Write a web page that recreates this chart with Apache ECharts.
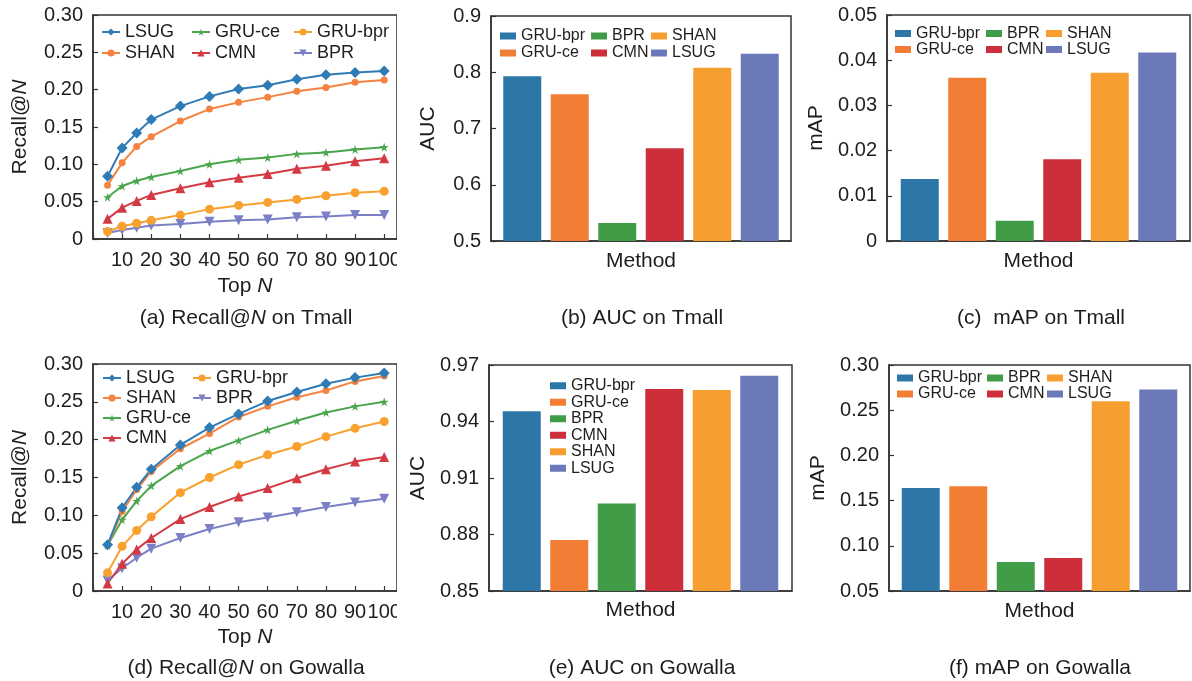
<!DOCTYPE html>
<html>
<head>
<meta charset="utf-8">
<script src="https://cdn.jsdelivr.net/npm/echarts@6.0.0/dist/echarts.min.js"></script>
<style>
	html, body { margin: 0; padding: 0; background: #fff; }
	#wrap { position: relative; width: 1192px; height: 681px; overflow: hidden; }
	.panel { position: absolute; }
</style>
</head>
<body>
<div id="wrap">
	<div class="panel" id="chartA" style="left:0px;top:0px;width:397px;height:340px;"></div>
	<div class="panel" id="chartB" style="left:397px;top:0px;width:397px;height:340px;"></div>
	<div class="panel" id="chartC" style="left:794px;top:0px;width:398px;height:340px;"></div>
	<div class="panel" id="chartD" style="left:0px;top:340px;width:397px;height:341px;"></div>
	<div class="panel" id="chartE" style="left:397px;top:340px;width:397px;height:341px;"></div>
	<div class="panel" id="chartF" style="left:794px;top:340px;width:398px;height:341px;"></div>
</div>
<script>
// x 값 (Top N)
const topN = [5, 10, 15, 20, 30, 40, 50, 60, 70, 80, 90, 100];
const topNTicks = [10, 20, 30, 40, 50, 60, 70, 80, 90, 100];

// Recall@N on Tmall
const tmallLSUG   = [0.084, 0.122, 0.142, 0.160, 0.178, 0.191, 0.201, 0.206, 0.214, 0.220, 0.223, 0.225];
const tmallSHAN   = [0.072, 0.102, 0.124, 0.137, 0.158, 0.174, 0.183, 0.190, 0.198, 0.203, 0.210, 0.213];
const tmallGRUce  = [0.056, 0.071, 0.078, 0.083, 0.091, 0.100, 0.106, 0.109, 0.114, 0.116, 0.120, 0.123];
const tmallCMN    = [0.027, 0.042, 0.051, 0.059, 0.068, 0.076, 0.082, 0.087, 0.094, 0.098, 0.104, 0.108];
const tmallGRUbpr = [0.010, 0.017, 0.021, 0.025, 0.032, 0.040, 0.045, 0.049, 0.053, 0.058, 0.062, 0.064];
const tmallBPR    = [0.008, 0.012, 0.015, 0.018, 0.020, 0.023, 0.025, 0.026, 0.029, 0.030, 0.032, 0.032];

// Recall@N on Gowalla
const gowLSUG   = [0.061, 0.110, 0.137, 0.161, 0.193, 0.216, 0.234, 0.251, 0.263, 0.274, 0.282, 0.288];
const gowSHAN   = [0.060, 0.105, 0.134, 0.158, 0.188, 0.208, 0.230, 0.244, 0.256, 0.265, 0.277, 0.284];
const gowGRUce  = [0.060, 0.094, 0.119, 0.139, 0.165, 0.185, 0.199, 0.213, 0.225, 0.236, 0.244, 0.250];
const gowGRUbpr = [0.024, 0.059, 0.080, 0.098, 0.130, 0.150, 0.167, 0.180, 0.191, 0.204, 0.215, 0.224];
const gowCMN    = [0.010, 0.036, 0.055, 0.070, 0.095, 0.111, 0.125, 0.136, 0.149, 0.161, 0.171, 0.177];
const gowBPR    = [0.014, 0.030, 0.044, 0.056, 0.070, 0.082, 0.091, 0.097, 0.104, 0.111, 0.117, 0.122];

// 막대 차트 (방법별)
const methods    = ['GRU-bpr', 'GRU-ce', 'BPR', 'CMN', 'SHAN', 'LSUG'];
const aucTmall   = [0.793, 0.761, 0.532, 0.665, 0.808, 0.833];
const mapTmall   = [0.0137, 0.0361, 0.0045, 0.0181, 0.0372, 0.0417];
const aucGowalla = [0.9454, 0.8771, 0.8964, 0.9572, 0.9567, 0.9643];
const mapGowalla = [0.164, 0.166, 0.082, 0.0865, 0.260, 0.273];

const FONT = "'Liberation Sans', Arial, Helvetica, sans-serif";
const TXT = '#1e1e1e';
const AXIS = '#333';

// 선 스타일
const lineStyles = {
	'LSUG':    { color: '#2f7bb6', symbol: 'diamond', size: 11 },
	'SHAN':    { color: '#f5823f', symbol: 'circle', size: 7 },
	'GRU-ce':  { color: '#4aa64c', symbol: 'path://M50,0 L61,35 L98,35 L68,57 L79,91 L50,70 L21,91 L32,57 L2,35 L39,35 Z', size: 9 },
	'CMN':     { color: '#d33a43', symbol: 'triangle', size: 10 },
	'GRU-bpr': { color: '#f9a12f', symbol: 'circle', size: 9 },
	'BPR':     { color: '#7b80c6', symbol: 'triangle', size: 10, rotate: 180 },
};
const barColors = {
	'GRU-bpr': '#2c76a8',
	'GRU-ce':  '#f27e36',
	'BPR':     '#419c47',
	'CMN':     '#cc2f39',
	'SHAN':    '#f79e31',
	'LSUG':    '#6c79b8',
};

const italicRich = {
	i: { fontStyle: 'italic', fontSize: 21, fontFamily: FONT, color: TXT },
};

// 캡션
function caption(text, x, y) {
	return {
		type: 'text',
		x: x,
		y: y,
		style: {
			text: text,
			fontSize: 21,
			fontFamily: FONT,
			fill: TXT,
			align: 'center',
			verticalAlign: 'middle',
			rich: italicRich,
		},
	};
}

function baseGrid(g) {
	return {
		left: g[0], top: g[1], width: g[2], height: g[3],
		show: true,
		borderColor: AXIS,
		borderWidth: 1.5,
		backgroundColor: 'transparent',
		outerBoundsMode: 'none',
	};
}

function valueYAxis(cfg) {
	return {
		type: 'value',
		min: cfg.min,
		max: cfg.max,
		interval: cfg.interval,
		name: cfg.name,
		nameLocation: 'middle',
		nameGap: cfg.nameGap,
		nameMoveOverlap: false,
		nameTextStyle: { fontSize: 21, fontFamily: FONT, color: TXT, rich: italicRich },
		axisLine: { show: true, lineStyle: { color: AXIS, width: 1.5 } },
		axisTick: { show: true, inside: true, length: 5, lineStyle: { color: AXIS, width: 1.2 } },
		axisLabel: {
			fontSize: 20, fontFamily: FONT, color: TXT, margin: 10,
			formatter: cfg.formatter,
		},
		splitLine: { show: false },
	};
}

function legendCols(cols, lefts, top, cfg) {
	return cols.map((col, i) => ({
		data: col,
		orient: 'vertical',
		left: lefts[i],
		top: top,
		padding: 0,
		itemGap: 0,
		itemWidth: cfg.itemWidth,
		itemHeight: cfg.itemHeight,
		icon: cfg.icon,
		selectedMode: false,
		textStyle: { fontSize: cfg.fontSize, fontFamily: FONT, color: TXT, lineHeight: cfg.lineHeight },
	}));
}

// 라인 차트 옵션 (Recall@N)
function lineOption(p) {
	const series = p.order.map(name => {
		const st = lineStyles[name];
		return {
			name: name,
			type: 'line',
			data: topN.map((x, i) => [x, p.values[name][i]]),
			symbol: st.symbol,
			symbolSize: st.size,
			symbolRotate: st.rotate || 0,
			showSymbol: true,
			lineStyle: { color: st.color, width: 2 },
			itemStyle: { color: st.color },
		};
	});
	return {
		animation: false,
		grid: baseGrid(p.grid),
		legend: legendCols(p.legendCols, p.legendLefts, p.legendTop, {
			itemWidth: 18, itemHeight: 9, fontSize: 18, lineHeight: p.legendLineHeight,
		}),
		xAxis: {
			type: 'value',
			min: 0,
			max: 104.4,
			interval: 10,
			name: 'Top {i|N}',
			nameLocation: 'middle',
			nameGap: p.xNameGap,
			nameTextStyle: { fontSize: 21, fontFamily: FONT, color: TXT, rich: italicRich },
			axisLine: { show: true, lineStyle: { color: AXIS, width: 1.5 } },
			axisTick: { show: true, inside: true, length: 5, lineStyle: { color: AXIS, width: 1.2 } },
			axisLabel: {
				fontSize: 20, fontFamily: FONT, color: TXT, margin: 11,
				formatter: v => topNTicks.indexOf(Math.round(v * 1000) / 1000) >= 0 ? String(v) : '',
			},
			splitLine: { show: false },
		},
		yAxis: valueYAxis({
			min: 0, max: 0.30, interval: 0.05,
			name: 'Recall@{i|N}', nameGap: 62,
			formatter: v => (v === 0 ? '0' : v.toFixed(2)),
		}),
		graphic: [caption(p.caption, p.captionXY[0], p.captionXY[1])],
		series: series,
	};
}

// 막대 차트 옵션 (AUC / mAP)
function barOption(p) {
	const series = methods.map((name, i) => ({
		name: name,
		type: 'bar',
		data: [p.values[i]],
		barWidth: 38,
		barGap: '25%',
		itemStyle: { color: barColors[name] },
	}));
	return {
		animation: false,
		grid: baseGrid(p.grid),
		legend: legendCols(p.legendCols, p.legendLefts, p.legendTop, {
			itemWidth: 16, itemHeight: 7, icon: 'rect', fontSize: 16, lineHeight: p.legendLineHeight,
		}),
		xAxis: {
			type: 'category',
			data: ['Method'],
			name: 'Method',
			nameLocation: 'middle',
			nameGap: p.xNameGap,
			nameTextStyle: { fontSize: 21, fontFamily: FONT, color: TXT },
			axisLine: { show: true, lineStyle: { color: AXIS, width: 1.5 } },
			axisTick: { show: false },
			axisLabel: { show: false },
		},
		yAxis: valueYAxis({
			min: p.min, max: p.max, interval: p.interval,
			name: p.yName, nameGap: p.yNameGap,
			formatter: p.formatter,
		}),
		graphic: [caption(p.caption, p.captionXY[0], p.captionXY[1])],
		series: series,
	};
}

const fix2 = v => (Math.abs(v) < 1e-9 ? '0' : v.toFixed(2));
const fix1 = v => v.toFixed(1);
const barLegendCols = [['GRU-bpr', 'GRU-ce'], ['BPR', 'CMN'], ['SHAN', 'LSUG']];

const panels = [
	{
		el: 'chartA',
		option: lineOption({
			grid: [93, 15, 304, 224],
			order: ['BPR', 'GRU-bpr', 'CMN', 'GRU-ce', 'SHAN', 'LSUG'],
			values: {
				'LSUG': tmallLSUG, 'SHAN': tmallSHAN, 'GRU-ce': tmallGRUce,
				'CMN': tmallCMN, 'GRU-bpr': tmallGRUbpr, 'BPR': tmallBPR,
			},
			legendCols: [['LSUG', 'SHAN'], ['GRU-ce', 'CMN'], ['GRU-bpr', 'BPR']],
			legendLefts: [101, 191, 293],
			legendTop: 21.5,
			legendLineHeight: 21,
			xNameGap: 37,
			caption: '(a) Recall@{i|N} on Tmall',
			captionXY: [246, 318],
		}),
	},
	{
		el: 'chartB',
		option: barOption({
			grid: [94, 16, 300, 225],
			values: aucTmall,
			min: 0.5, max: 0.9, interval: 0.1,
			yName: 'AUC', yNameGap: 52,
			formatter: fix1,
			legendCols: barLegendCols,
			legendLefts: [103, 194, 254],
			legendTop: 27.5,
			legendLineHeight: 17,
			xNameGap: 10,
			caption: '(b) AUC on Tmall',
			captionXY: [245, 318],
		}),
	},
	{
		el: 'chartC',
		option: barOption({
			grid: [93, 15, 303, 226],
			values: mapTmall,
			min: 0, max: 0.05, interval: 0.01,
			yName: 'mAP', yNameGap: 60,
			formatter: fix2,
			legendCols: barLegendCols,
			legendLefts: [101, 192, 252],
			legendTop: 25.5,
			legendLineHeight: 16,
			xNameGap: 10,
			caption: '(c)  mAP on Tmall',
			captionXY: [247, 318],
		}),
	},
	{
		el: 'chartD',
		option: lineOption({
			grid: [93, 24, 304, 227],
			order: ['BPR', 'CMN', 'GRU-bpr', 'GRU-ce', 'SHAN', 'LSUG'],
			values: {
				'LSUG': gowLSUG, 'SHAN': gowSHAN, 'GRU-ce': gowGRUce,
				'CMN': gowCMN, 'GRU-bpr': gowGRUbpr, 'BPR': gowBPR,
			},
			legendCols: [['LSUG', 'SHAN', 'GRU-ce', 'CMN'], ['GRU-bpr', 'BPR']],
			legendLefts: [102, 192],
			legendTop: 28,
			legendLineHeight: 20,
			xNameGap: 35,
			caption: '(d) Recall@{i|N} on Gowalla',
			captionXY: [246, 328],
		}),
	},
	{
		el: 'chartE',
		option: barOption({
			grid: [92, 25, 303, 226],
			values: aucGowalla,
			min: 0.85, max: 0.97, interval: 0.03,
			yName: 'AUC', yNameGap: 60,
			formatter: fix2,
			legendCols: [methods],
			legendLefts: [153],
			legendTop: 37.5,
			legendLineHeight: 16.5,
			xNameGap: 9,
			caption: '(e) AUC on Gowalla',
			captionXY: [245, 328],
		}),
	},
	{
		el: 'chartF',
		option: barOption({
			grid: [95, 25, 301, 226],
			values: mapGowalla,
			min: 0.05, max: 0.30, interval: 0.05,
			yName: 'mAP', yNameGap: 60,
			formatter: fix2,
			legendCols: barLegendCols,
			legendLefts: [103, 193, 253],
			legendTop: 30,
			legendLineHeight: 16,
			xNameGap: 10,
			caption: '(f) mAP on Gowalla',
			captionXY: [246, 328],
		}),
	},
];

panels.forEach(p => {
	const chart = echarts.init(document.getElementById(p.el), null, { renderer: 'canvas' });
	chart.setOption(p.option);
	window.addEventListener('resize', chart.resize);
});
</script>
</body>
</html>
